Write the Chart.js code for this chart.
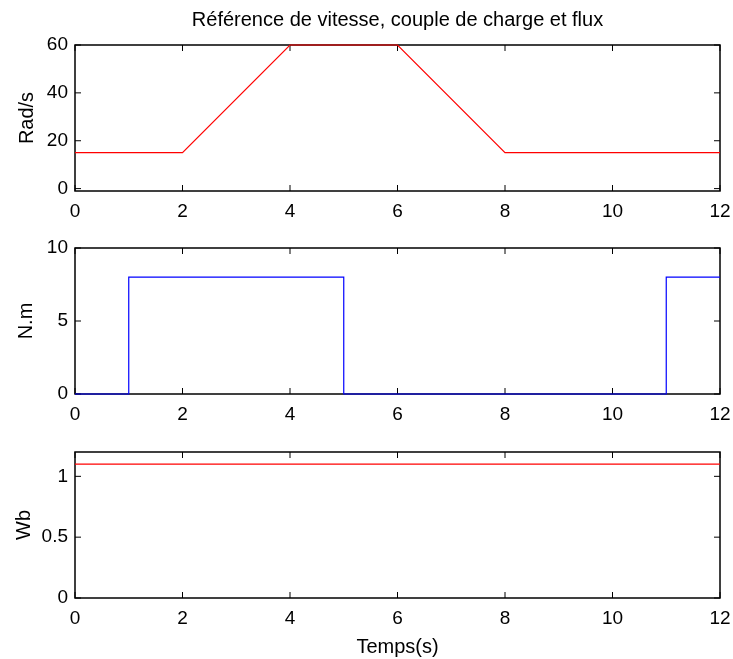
<!DOCTYPE html>
<html>
<head>
<meta charset="utf-8">
<title>Référence de vitesse, couple de charge et flux</title>
<script src="https://cdn.jsdelivr.net/npm/chart.js@4.4.0/dist/chart.umd.min.js"></script>
<style>
  body { margin: 0; background: #fff; }
  canvas { position: absolute; left: 0; }
</style>
</head>
<body>
<canvas id="speedChart" width="733" height="230" style="top:0px"></canvas>
<canvas id="torqueChart" width="733" height="210" style="top:230px"></canvas>
<canvas id="fluxChart" width="733" height="219" style="top:440px"></canvas>
<script>
// speed reference (rad/s)
const speedTime = [0, 2, 4, 6, 8, 12];
const speedRef = [15, 15, 60, 60, 15, 15];
// load torque (N.m), step changes
const torqueTime = [0, 1, 1, 5, 5, 11, 11, 12];
const torqueLoad = [0, 0, 8, 8, 0, 0, 8, 8];
// flux reference (Wb)
const fluxTime = [0, 12];
const fluxRef = [1.1, 1.1];

const timeTicks = [0, 2, 4, 6, 8, 10, 12];
const speedTicks = [0, 20, 40, 60];
const torqueTicks = [0, 5, 10];
const fluxTicks = [0, 0.5, 1];

const FAMILY = '"Liberation Sans", Arial, Helvetica, sans-serif';
const FONT = { family: FAMILY, size: 19, weight: 'normal' };
const LABEL_FONT = { family: FAMILY, size: 20, weight: 'normal' };
const TICK_LEN = 6;

// matlab style box with inward ticks
const matlabBox = {
  id: 'matlabBox',
  beforeDatasetsDraw(chart) {
    const { ctx, chartArea: a, scales: { x, y } } = chart;
    ctx.save();
    ctx.strokeStyle = '#000';
    ctx.lineWidth = 1.5;
    ctx.strokeRect(a.left, a.top, a.right - a.left, a.bottom - a.top);
    ctx.lineWidth = 1;
    ctx.beginPath();
    x.ticks.forEach(t => {
      const px = x.getPixelForValue(t.value);
      ctx.moveTo(px, a.bottom); ctx.lineTo(px, a.bottom - TICK_LEN);
      ctx.moveTo(px, a.top); ctx.lineTo(px, a.top + TICK_LEN);
    });
    y.ticks.forEach(t => {
      const py = y.getPixelForValue(t.value);
      ctx.moveTo(a.left, py); ctx.lineTo(a.left + TICK_LEN, py);
      ctx.moveTo(a.right, py); ctx.lineTo(a.right - TICK_LEN, py);
    });
    ctx.stroke();
    ctx.restore();
  }
};

const makeChart = (id, cfg) => {
  return new Chart(document.getElementById(id), {
    type: 'line',
    data: {
      datasets: [{
        data: cfg.xs.map((t, i) => ({ x: t, y: cfg.ys[i] })),
        borderColor: cfg.color,
        borderWidth: 1.2,
        pointRadius: 0,
        tension: 0,
        clip: 3
      }]
    },
    options: {
      responsive: false,
      animation: false,
      events: [],
      layout: { padding: { left: 0, right: 13, top: cfg.padTop, bottom: 0 } },
      plugins: {
        legend: { display: false },
        tooltip: { enabled: false },
        title: {
          display: !!cfg.title,
          text: cfg.title || '',
          color: '#000',
          font: LABEL_FONT,
          fullSize: false,
          padding: { top: 8, bottom: 13 }
        }
      },
      scales: {
        x: {
          type: 'linear',
          min: 0,
          max: 12,
          afterBuildTicks: s => { s.ticks = timeTicks.map(v => ({ value: v })); },
          afterFit: s => {
            s.height = cfg.xHeight;
            s.paddingLeft = 0;
            s.paddingRight = 0;
          },
          grid: { display: false, drawTicks: false },
          border: { display: false },
          ticks: { color: '#000', font: FONT, padding: 9, maxRotation: 0 },
          title: {
            display: !!cfg.xTitle,
            text: cfg.xTitle || '',
            color: '#000',
            font: LABEL_FONT,
            padding: { top: 0, bottom: 0 }
          }
        },
        y: {
          min: cfg.yMin,
          max: cfg.yMax,
          afterBuildTicks: s => { s.ticks = cfg.yTicks.map(v => ({ value: v })); },
          afterFit: s => {
            s.width = 75;
            s.paddingTop = 0;
            s.paddingBottom = 0;
          },
          grid: { display: false, drawTicks: false },
          border: { display: false },
          ticks: { color: '#000', font: FONT, padding: 7, callback: v => String(v) },
          title: {
            display: true,
            text: cfg.yTitle,
            color: '#000',
            font: LABEL_FONT,
            padding: { top: cfg.yTitlePad, bottom: 0 }
          }
        }
      }
    },
    plugins: [matlabBox]
  });
};

makeChart('speedChart', {
  xs: speedTime, ys: speedRef, color: 'rgb(255,0,0)',
  title: 'Référence de vitesse, couple de charge et flux',
  padTop: 0, xHeight: 39,
  yMin: -1, yMax: 60, yTicks: speedTicks, yTitle: 'Rad/s', yTitlePad: 15
});

makeChart('torqueChart', {
  xs: torqueTime, ys: torqueLoad, color: 'rgb(0,0,255)',
  padTop: 18, xHeight: 46,
  yMin: 0, yMax: 10, yTicks: torqueTicks, yTitle: 'N.m', yTitlePad: 14
});

makeChart('fluxChart', {
  xs: fluxTime, ys: fluxRef, color: 'rgb(255,0,0)',
  xTitle: 'Temps(s)',
  padTop: 12, xHeight: 61,
  yMin: 0, yMax: 1.2, yTicks: fluxTicks, yTitle: 'Wb', yTitlePad: 12
});
</script>
</body>
</html>
